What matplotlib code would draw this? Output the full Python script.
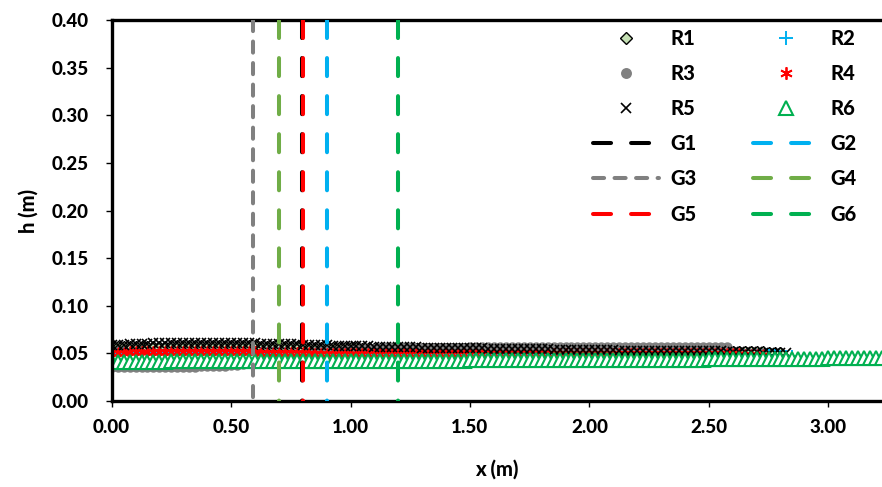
import numpy as np
import matplotlib
matplotlib.use("Agg")
import matplotlib.pyplot as plt

plt.rcParams['font.family'] = ['Lato', 'DejaVu Sans']
plt.rcParams['font.weight'] = 900
plt.rcParams['lines.scale_dashes'] = False

# sample spacing along x (m)
dx = 0.025

# water depth h (m) for each run, sampled every dx from x = 0
h_r1 = [
    0.057, 0.057, 0.057, 0.057, 0.057, 0.057, 0.057, 0.057, 0.057, 0.057,
    0.058, 0.058, 0.058, 0.058, 0.058, 0.058, 0.058, 0.058, 0.058, 0.058,
    0.058, 0.058, 0.058, 0.058, 0.058, 0.057, 0.057, 0.057, 0.057, 0.057,
    0.057, 0.057, 0.056, 0.056, 0.056, 0.056, 0.056, 0.056, 0.056, 0.056,
    0.056, 0.056, 0.055, 0.055, 0.055, 0.055, 0.055, 0.055, 0.055, 0.055,
    0.055, 0.055, 0.055, 0.055, 0.055, 0.055, 0.055, 0.055, 0.055, 0.055,
    0.054, 0.054, 0.054, 0.054, 0.054, 0.054, 0.054, 0.054, 0.054, 0.054,
    0.053, 0.053, 0.053, 0.053, 0.053, 0.053, 0.053, 0.053, 0.053, 0.053,
    0.053, 0.053, 0.053, 0.053, 0.053, 0.053, 0.053, 0.053, 0.053, 0.053,
    0.052, 0.052, 0.052, 0.052, 0.052, 0.052, 0.052, 0.052, 0.052, 0.052,
    0.051, 0.051, 0.051, 0.051, 0.051, 0.051, 0.051, 0.051, 0.051, 0.051,
    0.050, 0.050, 0.050,
]
h_r2 = [
    0.050, 0.050, 0.050, 0.050, 0.050, 0.050, 0.050, 0.050, 0.050, 0.050,
    0.050, 0.050, 0.050, 0.050, 0.050, 0.050, 0.050, 0.050, 0.050, 0.050,
    0.050, 0.050, 0.050, 0.050, 0.050, 0.050, 0.050, 0.050, 0.050, 0.050,
    0.049, 0.049, 0.049, 0.049, 0.049, 0.049, 0.049, 0.049, 0.049, 0.049,
    0.049, 0.049, 0.049, 0.049, 0.049, 0.049, 0.049, 0.049, 0.049, 0.049,
    0.049, 0.049, 0.049, 0.049, 0.049, 0.049, 0.049, 0.049, 0.049, 0.049,
    0.048, 0.048, 0.048, 0.048, 0.048, 0.048, 0.048, 0.048, 0.048, 0.048,
    0.048, 0.048, 0.048, 0.048, 0.048, 0.048, 0.048, 0.048, 0.048, 0.048,
    0.048, 0.048, 0.048, 0.048, 0.048, 0.048, 0.048, 0.048, 0.048, 0.048,
    0.048, 0.048, 0.048, 0.048, 0.048, 0.048, 0.048, 0.048, 0.048, 0.048,
    0.048, 0.048, 0.048, 0.048, 0.048, 0.048, 0.048, 0.048, 0.048, 0.048,
    0.048, 0.048, 0.047, 0.047, 0.047,
]
h_r3 = [
    0.036, 0.036, 0.036, 0.036, 0.036, 0.036, 0.036, 0.036, 0.036, 0.036,
    0.036, 0.036, 0.036, 0.036, 0.036, 0.037, 0.037, 0.037, 0.037, 0.037,
    0.038, 0.038, 0.039, 0.040, 0.041, 0.042, 0.043, 0.044, 0.045, 0.046,
    0.047, 0.048, 0.049, 0.050, 0.051, 0.052, 0.052, 0.053, 0.053, 0.054,
    0.054, 0.054, 0.055, 0.055, 0.055, 0.055, 0.056, 0.056, 0.056, 0.056,
    0.056, 0.056, 0.056, 0.056, 0.056, 0.056, 0.056, 0.056, 0.056, 0.056,
    0.057, 0.057, 0.057, 0.057, 0.057, 0.057, 0.057, 0.057, 0.057, 0.057,
    0.057, 0.057, 0.057, 0.057, 0.057, 0.057, 0.057, 0.057, 0.057, 0.057,
    0.057, 0.057, 0.057, 0.057, 0.057, 0.057, 0.057, 0.057, 0.057, 0.057,
    0.057, 0.057, 0.057, 0.057, 0.057, 0.057, 0.057, 0.057, 0.057, 0.057,
    0.057, 0.057, 0.057, 0.057,
]
h_r4 = [
    0.050, 0.050, 0.050, 0.051, 0.051, 0.051, 0.051, 0.051, 0.051, 0.051,
    0.051, 0.051, 0.051, 0.051, 0.051, 0.051, 0.051, 0.051, 0.051, 0.051,
    0.051, 0.051, 0.051, 0.051, 0.051, 0.050, 0.050, 0.050, 0.050, 0.050,
    0.050, 0.050, 0.050, 0.050, 0.049, 0.049, 0.049, 0.049, 0.049, 0.049,
    0.049, 0.049, 0.049, 0.049, 0.049, 0.049, 0.049, 0.049, 0.049, 0.049,
    0.049, 0.049, 0.049, 0.049, 0.049, 0.049, 0.049, 0.049, 0.049, 0.049,
    0.049, 0.049, 0.049, 0.049, 0.049, 0.049, 0.049, 0.049, 0.049, 0.049,
    0.049, 0.049, 0.049, 0.049, 0.049, 0.049, 0.049, 0.049, 0.049, 0.049,
    0.049, 0.049, 0.049, 0.049, 0.049, 0.049, 0.049, 0.049, 0.049, 0.049,
    0.049, 0.049, 0.049, 0.049, 0.049, 0.049, 0.049, 0.049, 0.049, 0.049,
    0.049, 0.049, 0.049, 0.049, 0.049, 0.049, 0.048, 0.048, 0.048, 0.048,
]
h_r5 = [
    0.059, 0.059, 0.059, 0.060, 0.060, 0.060, 0.060, 0.061, 0.061, 0.061,
    0.061, 0.061, 0.061, 0.061, 0.061, 0.061, 0.061, 0.061, 0.061, 0.061,
    0.061, 0.061, 0.061, 0.061, 0.061, 0.060, 0.060, 0.060, 0.060, 0.060,
    0.060, 0.060, 0.059, 0.059, 0.059, 0.059, 0.059, 0.058, 0.058, 0.058,
    0.058, 0.058, 0.058, 0.058, 0.057, 0.057, 0.057, 0.057, 0.057, 0.057,
    0.057, 0.057, 0.056, 0.056, 0.056, 0.056, 0.056, 0.056, 0.056, 0.056,
    0.056, 0.056, 0.056, 0.055, 0.055, 0.055, 0.055, 0.055, 0.055, 0.055,
    0.055, 0.055, 0.055, 0.055, 0.054, 0.054, 0.054, 0.054, 0.054, 0.054,
    0.054, 0.054, 0.054, 0.054, 0.054, 0.053, 0.053, 0.053, 0.053, 0.053,
    0.053, 0.053, 0.053, 0.053, 0.052, 0.052, 0.052, 0.052, 0.052, 0.052,
    0.052, 0.052, 0.052, 0.051, 0.051, 0.051, 0.051, 0.051, 0.051, 0.050,
    0.050, 0.050, 0.050, 0.050,
]
h_r6 = [
    0.041, 0.041, 0.041, 0.041, 0.041, 0.041, 0.041, 0.041, 0.041, 0.041,
    0.042, 0.042, 0.042, 0.042, 0.042, 0.042, 0.042, 0.042, 0.042, 0.042,
    0.042, 0.042, 0.042, 0.042, 0.042, 0.042, 0.042, 0.042, 0.042, 0.042,
    0.042, 0.042, 0.042, 0.042, 0.042, 0.042, 0.042, 0.042, 0.042, 0.042,
    0.042, 0.042, 0.042, 0.042, 0.042, 0.042, 0.042, 0.042, 0.042, 0.042,
    0.042, 0.042, 0.042, 0.042, 0.042, 0.042, 0.042, 0.042, 0.042, 0.042,
    0.043, 0.043, 0.043, 0.043, 0.043, 0.043, 0.043, 0.043, 0.043, 0.043,
    0.043, 0.043, 0.043, 0.043, 0.043, 0.043, 0.043, 0.043, 0.043, 0.043,
    0.043, 0.043, 0.043, 0.043, 0.043, 0.043, 0.043, 0.043, 0.043, 0.043,
    0.043, 0.043, 0.043, 0.043, 0.043, 0.043, 0.043, 0.043, 0.043, 0.043,
    0.044, 0.044, 0.044, 0.044, 0.044, 0.044, 0.044, 0.044, 0.044, 0.044,
    0.044, 0.044, 0.044, 0.044, 0.044, 0.044, 0.044, 0.044, 0.044, 0.044,
    0.045, 0.045, 0.045, 0.045, 0.045, 0.045, 0.045, 0.045, 0.045, 0.045,
]

# gauge positions (m)
gauge_names = ['G1', 'G2', 'G3', 'G4', 'G5', 'G6']
gauge_x = [0.795, 0.90, 0.59, 0.70, 0.80, 1.20]

x_lim = (0.0, 3.225)
y_lim = (0.0, 0.40)
x_ticks = [0.0, 0.5, 1.0, 1.5, 2.0, 2.5, 3.0]
y_ticks = [0.0, 0.05, 0.10, 0.15, 0.20, 0.25, 0.30, 0.35, 0.40]

green = '#00B050'
blue = '#00B0F0'
grey = '#808080'
red = '#FF0000'
light_green = '#70AD47'

run_styles = {
    'R1': dict(marker='D', ms=6, mfc='#C5E0B4', mec='black', mew=1.0),
    'R2': dict(marker='+', ms=9, mfc='none', mec=blue, mew=1.4),
    'R3': dict(marker='o', ms=7.5, mfc=grey, mec=grey, mew=0),
    'R4': dict(marker=(6, 2, 0), ms=8.5, mfc='none', mec=red, mew=1.3),
    'R5': dict(marker='x', ms=7, mfc='none', mec='black', mew=1.2),
    'R6': dict(marker='^', ms=9.5, mfc='white', mec=green, mew=1.5),
}
run_data = {'R1': h_r1, 'R2': h_r2, 'R3': h_r3, 'R4': h_r4, 'R5': h_r5, 'R6': h_r6}

long_dash = (13, 14.4)
short_dash = (8, 7.5)
gauge_styles = {
    'G1': dict(color='black', dashes=long_dash),
    'G2': dict(color=blue, dashes=long_dash),
    'G3': dict(color=grey, dashes=short_dash),
    'G4': dict(color=light_green, dashes=long_dash),
    'G5': dict(color=red, dashes=long_dash),
    'G6': dict(color=green, dashes=long_dash),
}

fig = plt.figure(figsize=(8.82, 4.87), dpi=100)
ax = fig.add_axes([0.1266, 0.1766, 0.8734, 0.7823])

handles = {}
for name in ['R1', 'R2', 'R3', 'R4', 'R5', 'R6']:
    h = run_data[name]
    x = np.arange(len(h)) * dx
    line, = ax.plot(x, h, linestyle='none', label=name, zorder=2, **run_styles[name])
    handles[name] = line

for name, gx in zip(gauge_names, gauge_x):
    st = gauge_styles[name]
    line, = ax.plot([gx, gx], [y_lim[1], y_lim[0]], color=st['color'], lw=2.9,
                    dash_capstyle='round', label=name, zorder=3)
    line.set_dashes(st['dashes'])
    handles[name] = line

ax.set_xlim(*x_lim)
ax.set_ylim(*y_lim)
ax.set_xticks(x_ticks)
ax.set_yticks(y_ticks)
ax.set_xticklabels([f'{v:.2f}' for v in x_ticks], fontweight=900)
ax.set_yticklabels([f'{v:.2f}' for v in y_ticks], fontweight=900)
ax.tick_params(axis='both', direction='out', length=4.3, width=1.0,
               labelsize=13.5, colors='black')
ax.tick_params(axis='y', pad=12)
ax.tick_params(axis='x', pad=9)
for side in ['left', 'bottom', 'top']:
    ax.spines[side].set_linewidth(2.4)
    ax.spines[side].set_color('black')
ax.spines['right'].set_visible(False)

ax.set_xlabel('x (m)', fontsize=14.5, fontweight=900, labelpad=16)
ax.set_ylabel('h (m)', fontsize=14.5, fontweight=900, labelpad=10)

order = ['R1', 'R3', 'R5', 'G1', 'G3', 'G5', 'R2', 'R4', 'R6', 'G2', 'G4', 'G6']
leg = ax.legend([handles[n] for n in order], order, ncol=2, frameon=False,
                loc='upper left', bbox_to_anchor=(593 / 882, 1 - 29 / 487),
                bbox_transform=fig.transFigure,
                prop={'family': ['Lato', 'DejaVu Sans'], 'weight': 900, 'size': 14.5},
                handlelength=3.3, handletextpad=0.55, columnspacing=2.8,
                labelspacing=0.8, borderpad=0, borderaxespad=0,
                numpoints=1, markerscale=1.05)

fig.savefig('out.png', dpi=100)
